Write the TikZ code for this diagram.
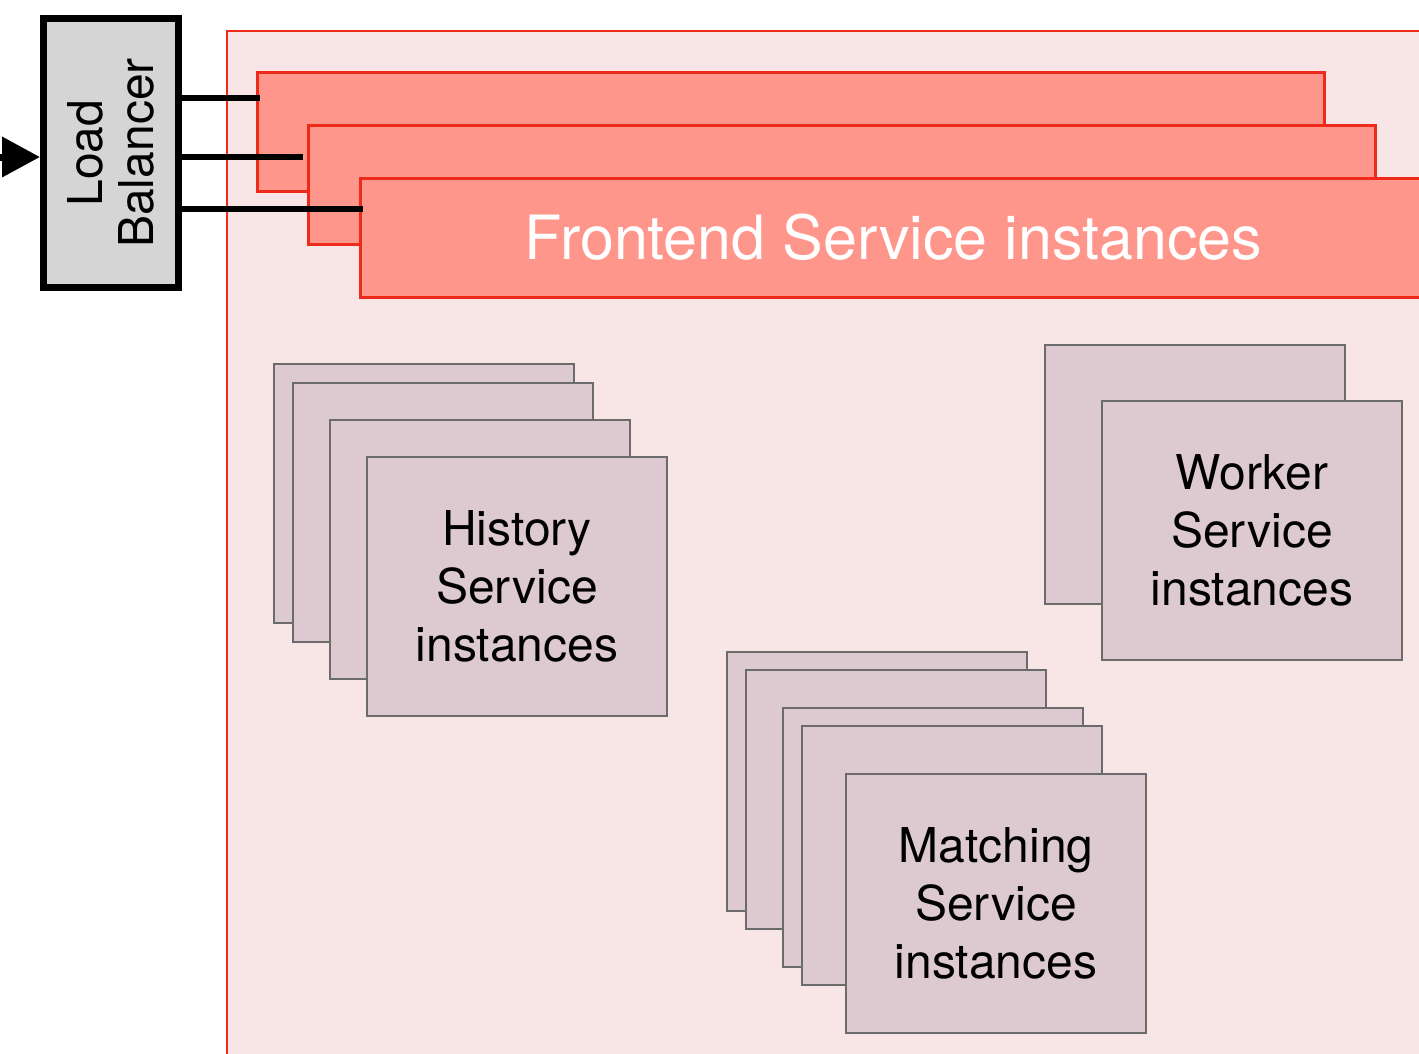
\documentclass[tikz,border=0pt]{standalone}
\usepackage{fontspec}
\setmainfont{TeX Gyre Heros}
\usepackage{xcolor}
\usepackage{tikz}
\usetikzlibrary{arrows.meta, positioning, calc}
\definecolor{clusterfill}{HTML}{F8E6E6}
\definecolor{redline}{HTML}{EE2A1A}
\definecolor{frontfill}{HTML}{FF968B}
\definecolor{instfill}{HTML}{DCCAD0}
\definecolor{instline}{HTML}{6B6B6B}
\definecolor{lbfill}{HTML}{D5D5D5}

\begin{document}
\begin{tikzpicture}[
  x=1pt, y=-1pt,
  clusterbox/.style={draw=redline, fill=clusterfill, line width=2pt, anchor=north west,
                     outer sep=0pt, minimum width=1250pt, minimum height=1100pt},
  febox/.style={draw=redline, fill=frontfill, line width=3pt, anchor=north west,
                outer sep=0pt, inner sep=0pt, minimum width=1067pt, minimum height=119pt,
                text=white, font=\fontsize{61}{72}\selectfont},
  instbox/.style={draw=instline, fill=instfill, line width=2.5pt, anchor=north west,
                  outer sep=0pt, inner sep=0pt, minimum width=300pt, minimum height=259pt,
                  align=center, font=\fontsize{48}{58}\selectfont},
  lbbox/.style={draw, fill=lbfill, line width=7pt, rotate=90, inner sep=0pt,
                minimum width=269pt, minimum height=135pt, align=center,
                font=\fontsize{48}{51}\selectfont},
  link/.style={line width=6pt},
  arr/.style={-{Triangle[length=38pt, width=39pt]}, line width=7pt},
]
\useasboundingbox (0,0) rectangle (1419,1053);
\fill[white] (0,0) rectangle (1419,1053);

% cluster and frontend layer
\node[clusterbox] (cluster) at (227,31) {};
\node[febox] (fe1) at (257,72) {};
\node[febox] (fe2) at (308,125) {};
\node[febox] (fe3) at (360,178) {Frontend Service instances};

% history
\node[instbox] (hist1) at (274,364) {};
\node[instbox] (hist2) at ([shift={(19,19)}]hist1.north west) {};
\node[instbox] (hist3) at ([shift={(56,56)}]hist1.north west) {};
\node[instbox] (hist4) at ([shift={(93,93)}]hist1.north west) {History\\Service\\instances};

% matching
\node[instbox] (match1) at (727,652) {};
\node[instbox] (match2) at ([shift={(19,18)}]match1.north west) {};
\node[instbox] (match3) at ([shift={(56,56)}]match1.north west) {};
\node[instbox] (match4) at ([shift={(75,74)}]match1.north west) {};
\node[instbox] (match5) at ([shift={(119,122)}]match1.north west) {Matching\\Service\\instances};

% worker
\node[instbox] (work1) at (1045,345) {};
\node[instbox] (work2) at ([shift={(57,56)}]work1.north west) {Worker\\Service\\instances};

% load balancer
\node[lbbox] (lb) at (111,153) {Load\\Balancer};
\coordinate (src) at (-80,157);
\coordinate (t1) at (260,98);
\coordinate (t2) at (303,157);
\coordinate (t3) at (363,209);
\draw[link] (lb.south |- t1) -- (t1);
\draw[link] (lb.south |- t2) -- (t2);
\draw[link] (lb.south |- t3) -- (t3);
\draw[arr] (src) -- (lb.north |- src);
\end{tikzpicture}
\end{document}
